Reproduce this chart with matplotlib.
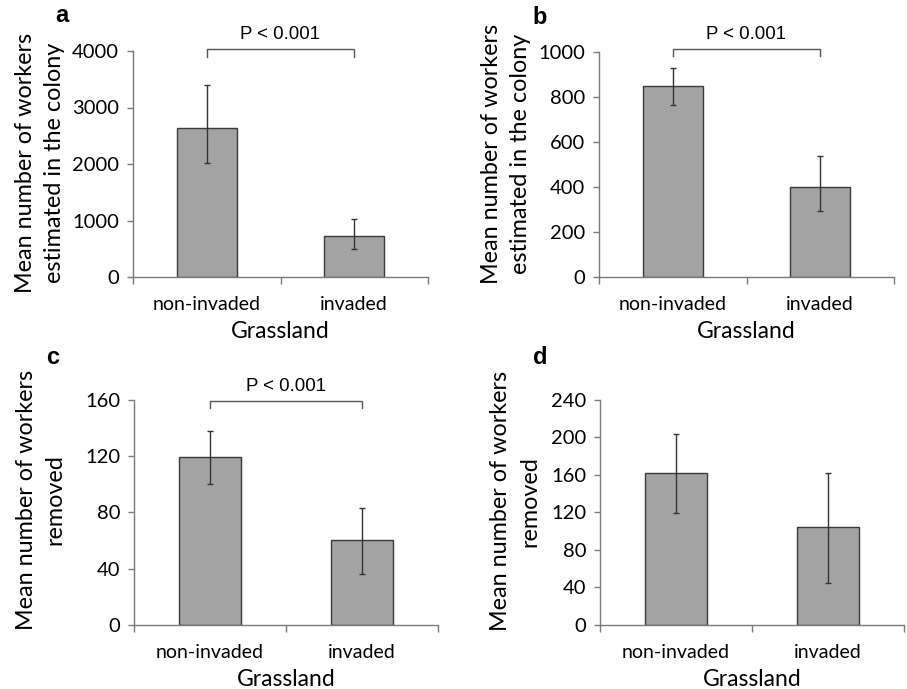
import matplotlib
matplotlib.use("Agg")
import matplotlib.pyplot as plt
import numpy as np

categories = ["non-invaded", "invaded"]

# panel a
a_means = [2632, 726]
a_upper = [3393, 1027]
a_lower = [2023, 496]
# panel b
b_means = [846, 401]
b_upper = [926, 538]
b_lower = [765, 294]
# panel c
c_means = [119.2, 60.1]
c_upper = [137.7, 83.1]
c_lower = [100.2, 36.3]
# panel d
d_means = [162.3, 104.0]
d_upper = [204.0, 162.3]
d_lower = [119.3, 44.2]

y_ticks_a = [0, 1000, 2000, 3000, 4000]
y_ticks_b = [0, 200, 400, 600, 800, 1000]
y_ticks_c = [0, 40, 80, 120, 160]
y_ticks_d = [0, 40, 80, 120, 160, 200, 240]

ylabel_top = "Mean number of workers\nestimated in the colony"
ylabel_bottom = "Mean number of workers\nremoved"
xlabel = "Grassland"
ptext = "P < 0.001"

FONT = "Lato"
SPINE = "#7a7a7a"

fig = plt.figure(figsize=(9.07, 6.89), dpi=100)

def px_rect(left, right, top, bottom):
    W, H = 907, 689
    return [left / W, 1 - bottom / H, (right - left) / W, (bottom - top) / H]

panels = [
    dict(rect=px_rect(133, 428, 51, 277), means=a_means, up=a_upper, lo=a_lower,
         ticks=y_ticks_a, ylabel=ylabel_top, label="a", lab_xy=(62, 15),
         ylc=(-0.23, 0.504), bracket=(4040, 3900, 4300)),
    dict(rect=px_rect(599, 894, 51.7, 277), means=b_means, up=b_upper, lo=b_lower,
         ticks=y_ticks_b, ylabel=ylabel_top, label="b", lab_xy=(540, 18),
         ylc=(-0.23, 0.548), bracket=(1010, 980, 1078)),
    dict(rect=px_rect(134, 438, 400, 624.7), means=c_means, up=c_upper, lo=c_lower,
         ticks=y_ticks_c, ylabel=ylabel_bottom, label="c", lab_xy=(53, 358),
         ylc=(-0.226, 0.556), bracket=(159.5, 154, 169.3)),
    dict(rect=px_rect(600, 904, 400, 624.7), means=d_means, up=d_upper, lo=d_lower,
         ticks=y_ticks_d, ylabel=ylabel_bottom, label="d", lab_xy=(540, 357),
         ylc=(-0.197, 0.55), bracket=None),
]

for p in panels:
    ax = fig.add_axes(p["rect"])
    x = np.arange(len(categories))
    means = np.array(p["means"])
    yerr = np.vstack([means - np.array(p["lo"]), np.array(p["up"]) - means])
    ax.bar(x, means, width=0.405, color="#a3a3a3", edgecolor="#3a3a3a", linewidth=1.0, zorder=2)
    ax.errorbar(x, means, yerr=yerr, fmt="none", ecolor="#333333", elinewidth=1.0,
                capsize=2.5, capthick=1.0, zorder=3)
    ax.set_xlim(-0.5, 1.5)
    ax.set_ylim(p["ticks"][0], p["ticks"][-1])
    ax.set_yticks(p["ticks"])
    ax.set_yticklabels([str(t) for t in p["ticks"]], fontsize=14.5, family=FONT)
    ax.set_xticks(x)
    ax.set_xticklabels(categories, fontsize=14, family=FONT)
    ax.set_xticks([-0.5, 0.5, 1.5], minor=True)
    ax.tick_params(axis="x", which="major", length=0, pad=14)
    ax.tick_params(axis="x", which="minor", length=5, width=1, color=SPINE, direction="out")
    ax.tick_params(axis="y", which="major", length=4.5, width=1, color=SPINE, pad=5.5)
    for s in ["top", "right"]:
        ax.spines[s].set_visible(False)
    for s in ["left", "bottom"]:
        ax.spines[s].set_color(SPINE)
        ax.spines[s].set_linewidth(1.0)
    ax.set_ylabel(p["ylabel"], fontsize=16.8, family=FONT, linespacing=1.45)
    ax.yaxis.set_label_coords(*p["ylc"])
    ax.set_xlabel(xlabel, fontsize=16.5, family=FONT, labelpad=5.5)
    fig.text(p["lab_xy"][0] / 907, 1 - p["lab_xy"][1] / 689, p["label"],
             fontsize=17, fontweight="bold", family="Liberation Sans",
             ha="center", va="center")
    if p["bracket"] is not None:
        top, end, ty = p["bracket"]
        ax.plot([0, 0, 1, 1], [end, top, top, end], color="#555555", lw=1.0,
                clip_on=False, zorder=4)
        ax.text(0.5, ty, ptext, fontsize=13.4, family="Liberation Sans",
                ha="center", va="center")

fig.savefig("out.png", dpi=100)
